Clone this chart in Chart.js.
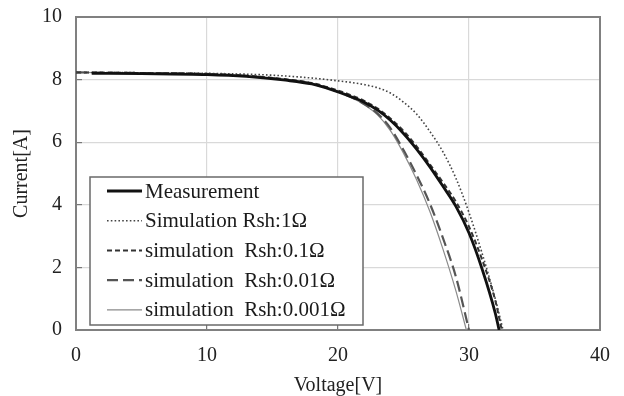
<!DOCTYPE html>
<html><head><meta charset="utf-8">
<script src="https://cdn.jsdelivr.net/npm/chart.js@4.4.1/dist/chart.umd.min.js"></script>
<style>html,body{margin:0;padding:0;background:#fff;}canvas{display:block;}</style>
</head><body>
<canvas id="c" width="624" height="396"></canvas>
<script>
// ---- data ----
const xTickValues = [0, 10, 20, 30, 40];
const yTickValues = [0, 2, 4, 6, 8, 10];
const xTitle = 'Voltage[V]';
const yTitle = 'Current[A]';

const seriesLabels = [
  'Measurement',
  'Simulation Rsh:1\u03A9',
  'simulation  Rsh:0.1\u03A9',
  'simulation  Rsh:0.01\u03A9',
  'simulation  Rsh:0.001\u03A9'
];

const measV = [1.2, 5, 10, 13, 16, 18, 19.5, 21, 22, 23, 24, 25, 26, 27, 28, 29, 30, 31, 32, 32.3];
const measI = [8.2, 8.19, 8.16, 8.1, 7.98, 7.86, 7.68, 7.45, 7.28, 7.03, 6.7, 6.28, 5.78, 5.22, 4.6, 3.95, 3.1, 1.95, 0.55, 0];

const rsh1V = [0, 5, 10, 15, 18, 20, 21, 22, 23, 24, 25, 26, 27, 28, 29, 30, 31, 32, 32.6];
const rsh1I = [8.23, 8.22, 8.2, 8.14, 8.05, 7.96, 7.91, 7.84, 7.74, 7.57, 7.28, 6.9, 6.35, 5.7, 4.85, 3.75, 2.45, 1.0, 0];

const rsh01V = [0, 5, 10, 13, 16, 18, 19.5, 21, 22, 23, 24, 25, 26, 27, 28, 29, 30, 31, 32, 32.5];
const rsh01I = [8.23, 8.21, 8.18, 8.12, 8.01, 7.89, 7.72, 7.5, 7.32, 7.08, 6.76, 6.36, 5.87, 5.3, 4.72, 4.1, 3.3, 2.25, 0.95, 0];

const rsh001V = [0, 5, 10, 13, 16, 18, 19.5, 21, 22, 23, 24, 25, 26, 27, 28, 29, 30];
const rsh001I = [8.23, 8.21, 8.18, 8.12, 8.0, 7.87, 7.69, 7.44, 7.22, 6.92, 6.45, 5.75, 4.95, 4.05, 2.95, 1.7, 0];

const rsh0001V = [0, 5, 10, 13, 16, 18, 19.5, 21, 22, 23, 24, 25, 26, 27, 28, 29, 29.8];
const rsh0001I = [8.23, 8.21, 8.18, 8.12, 8.0, 7.87, 7.69, 7.43, 7.2, 6.88, 6.37, 5.65, 4.8, 3.8, 2.6, 1.25, 0];

// ---- chart ----
const FONT = '"Liberation Serif", "Times New Roman", Times, serif';
Chart.defaults.font.family = FONT;
Chart.defaults.color = '#222';

function pts(xs, ys) { return xs.map((x, i) => ({x: x, y: ys[i]})); }

const styles = [
  {color: '#111', width: 2.8, dash: []},
  {color: '#444', width: 1.6, dash: [1.6, 2.2]},
  {color: '#333', width: 2.0, dash: [5, 3]},
  {color: '#555', width: 2.2, dash: [11, 5]},
  {color: '#8a8a8a', width: 1.2, dash: []}
];
const seriesData = [
  pts(measV, measI), pts(rsh1V, rsh1I), pts(rsh01V, rsh01I), pts(rsh001V, rsh001I), pts(rsh0001V, rsh0001I)
];

const datasets = seriesData.map((d, i) => ({
  label: seriesLabels[i],
  data: d,
  borderColor: styles[i].color,
  borderWidth: styles[i].width,
  borderDash: styles[i].dash,
  pointRadius: 0,
  fill: false,
  cubicInterpolationMode: 'monotone',
  showLine: true
}));

const framePlugin = {
  id: 'frame',
  beforeDatasetsDraw(chart) {
    const {ctx, chartArea: a} = chart;
    ctx.save();
    ctx.strokeStyle = '#808080';
    ctx.lineWidth = 2;
    ctx.strokeRect(a.left, a.top, a.right - a.left, a.bottom - a.top);
    ctx.restore();
  }
};

const legendPlugin = {
  id: 'boxLegend',
  afterDraw(chart) {
    const ctx = chart.ctx;
    const bx = 90, by = 177, bw = 273, bh = 148;
    ctx.save();
    ctx.fillStyle = '#fff';
    ctx.fillRect(bx, by, bw, bh);
    ctx.strokeStyle = '#6a6a6a';
    ctx.lineWidth = 1.5;
    ctx.strokeRect(bx, by, bw, bh);
    chart.data.datasets.forEach((ds, i) => {
      const y = 191 + 29.7 * i;
      ctx.beginPath();
      ctx.strokeStyle = ds.borderColor;
      ctx.lineWidth = ds.borderWidth;
      ctx.setLineDash(ds.borderDash || []);
      ctx.moveTo(107, y);
      ctx.lineTo(142, y);
      ctx.stroke();
      ctx.setLineDash([]);
      ctx.fillStyle = '#1a1a1a';
      ctx.font = '21px ' + FONT;
      ctx.textBaseline = 'middle';
      ctx.textAlign = 'left';
      ctx.fillText(ds.label, 145, y + 1);
    });
    ctx.restore();
  }
};

new Chart(document.getElementById('c'), {
  type: 'scatter',
  data: {datasets: datasets},
  options: {
    responsive: false,
    animation: false,
    devicePixelRatio: 1,
    layout: {padding: {top: 17, right: 24, left: 0, bottom: 0}},
    plugins: {legend: {display: false}, tooltip: {enabled: false}},
    scales: {
      x: {
        type: 'linear', min: 0, max: 40,
        afterBuildTicks: s => { s.ticks = xTickValues.map(v => ({value: v})); },
        afterFit: s => { s.height = 66; s.paddingLeft = 0; s.paddingRight = 0; },
        border: {display: false},
        grid: {color: '#d9d9d9', lineWidth: 1.2, tickLength: -6, tickColor: '#777', tickWidth: 1.2},
        ticks: {padding: 20, font: {size: 20}, color: '#222', maxRotation: 0},
        title: {display: true, text: xTitle, font: {size: 20, lineHeight: 1}, padding: {top: 0, bottom: 0}, color: '#222'}
      },
      y: {
        type: 'linear', min: 0, max: 10,
        afterBuildTicks: s => { s.ticks = yTickValues.map(v => ({value: v})); },
        afterFit: s => { s.width = 76; s.paddingTop = 0; s.paddingBottom = 0; },
        border: {display: false},
        grid: {color: '#d9d9d9', lineWidth: 1.2, tickLength: -6, tickColor: '#777', tickWidth: 1.2},
        ticks: {padding: 20, font: {size: 20}, color: '#222'},
        title: {display: true, text: yTitle, font: {size: 20, lineHeight: 1}, padding: {top: 12, bottom: 0}, color: '#222'}
      }
    }
  },
  plugins: [framePlugin, legendPlugin]
});
</script>
</body></html>
